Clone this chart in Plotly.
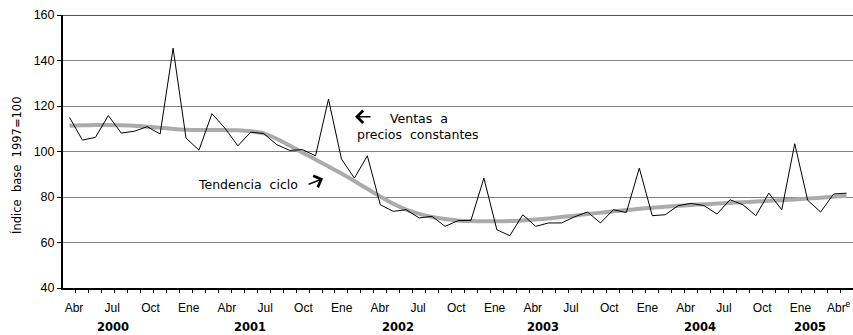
import plotly.graph_objects as go

# Monthly index, Abr 2000 .. Abr 2005 (base 1997=100)
meses = list(range(61))
ventas = [115.0, 105.0, 106.2, 115.8, 108.1, 108.9, 110.9, 107.7, 145.4, 105.9,
          100.6, 116.6, 110.3, 102.5, 108.5, 107.9, 103.0, 100.5, 100.8, 98.1,
          123.0, 96.7, 88.3, 98.1, 76.6, 73.7, 74.4, 70.8, 71.5, 67.1,
          69.6, 69.7, 88.3, 65.6, 63.0, 72.2, 67.1, 68.6, 68.6, 71.3,
          73.4, 68.6, 74.4, 73.2, 92.7, 71.8, 72.2, 76.2, 77.2, 76.2,
          72.5, 78.8, 76.6, 71.8, 81.7, 74.4, 103.4, 78.6, 73.4, 81.3,
          81.7]
tendencia = [111.3, 111.5, 111.6, 111.6, 111.5, 111.3, 110.9, 110.4, 109.9, 109.6,
             109.5, 109.5, 109.4, 109.3, 108.9, 108.0, 105.6, 102.6, 99.5, 96.5,
             93.4, 90.3, 87.0, 83.6, 80.2, 77.0, 74.4, 72.6, 71.2, 70.3,
             69.7, 69.4, 69.3, 69.3, 69.4, 69.7, 70.1, 70.6, 71.2, 71.8,
             72.5, 73.1, 73.7, 74.3, 74.8, 75.3, 75.7, 76.1, 76.5, 76.8,
             77.1, 77.4, 77.7, 78.0, 78.3, 78.6, 78.9, 79.3, 79.7, 80.1,
             80.5]

etiquetas_mes = ["Abr", "Jul", "Oct", "Ene"] * 5 + ["Abr<sup>e</sup>"]
anios = ["2000", "2001", "2002", "2003", "2004", "2005"]

# label placement along the month axis (one label every quarter)
posiciones_mes = [0.35 + k * 2.952 for k in range(len(etiquetas_mes))]
posiciones_anio = [3.36, 13.94, 25.37, 36.57, 48.69, 57.18]

SANS = "Liberation Sans, Arial, sans-serif"
WIDE = "DejaVu Sans, sans-serif"

fig = go.Figure()
fig.add_trace(go.Scatter(x=meses, y=tendencia, mode="lines",
                         line=dict(color="#ababab", width=4, shape="spline", smoothing=0.6),
                         hoverinfo="skip", showlegend=False))
fig.add_trace(go.Scatter(x=meses, y=ventas, mode="lines",
                         line=dict(color="#000000", width=1),
                         hoverinfo="skip", showlegend=False))

fig.update_xaxes(
    range=[-0.5, 60.5],
    tickmode="array", tickvals=posiciones_mes, ticktext=etiquetas_mes,
    ticks="", ticklabelstandoff=8, ticklabeloverflow="allow",
    tickfont=dict(family=SANS, size=12, color="#000"),
    minor=dict(tickmode="array", tickvals=[m + 0.5 for m in meses[:-1]],
               ticks="outside", ticklen=3, tickcolor="#000", tickwidth=1),
    showgrid=False, zeroline=False,
    showline=True, linecolor="#000", linewidth=1.5,
)
fig.update_yaxes(
    range=[40, 160], tickmode="linear", tick0=40, dtick=20,
    ticks="outside", ticklen=4, tickcolor="#000", tickwidth=1,
    tickfont=dict(family=SANS, size=12.5, color="#000"),
    showgrid=True, gridcolor="#808080", gridwidth=1, zeroline=False,
    showline=True, linecolor="#000", linewidth=2,
)

# top border of the plotting area
fig.add_shape(type="line", xref="paper", yref="y", x0=0, x1=1, y0=160, y1=160,
              line=dict(color="#505050", width=2))

notas = [
    dict(x=24.6, y=114.5, text="Ventas  a", xanchor="left"),
    dict(x=22.05, y=107.3, text="precios  constantes", xanchor="left"),
    dict(x=17.8, y=85.3, text="Tendencia  ciclo", xanchor="right"),
]
for n in notas:
    fig.add_annotation(x=n["x"], y=n["y"], xref="x", yref="y", text=n["text"],
                       xanchor=n["xanchor"], yanchor="middle", showarrow=False,
                       font=dict(family=WIDE, size=12.5, color="#000"))

# pointer arrows next to the two labels
flechas = [((22.05, 115.3), (23.36, 115.3)), ((19.58, 88.1), (18.34, 85.3))]
for (hx, hy), (tx, ty) in flechas:
    fig.add_annotation(x=hx, y=hy, ax=tx, ay=ty, xref="x", yref="y",
                       axref="x", ayref="y", text="", showarrow=True,
                       arrowhead=4, arrowsize=1.6, arrowwidth=1.5,
                       arrowcolor="#000", standoff=0, startstandoff=0)

for a, p in zip(anios, posiciones_anio):
    fig.add_annotation(x=p, y=-0.143, xref="x", yref="paper",
                       text="<b>" + a + "</b>",
                       showarrow=False, xanchor="center", yanchor="middle",
                       font=dict(family=WIDE, size=11.5, color="#000"))

fig.add_annotation(x=-0.0582, y=0.447, xref="paper", yref="paper",
                   text="Índice  base  1997=100", textangle=-90, showarrow=False,
                   xanchor="center", yanchor="middle",
                   font=dict(family=WIDE, size=11.5, color="#000"))

fig.update_layout(
    width=853, height=335,
    margin=dict(l=63, r=0, t=15, b=47),
    paper_bgcolor="#ffffff", plot_bgcolor="#ffffff",
    showlegend=False,
)

fig.write_html("out.html")
